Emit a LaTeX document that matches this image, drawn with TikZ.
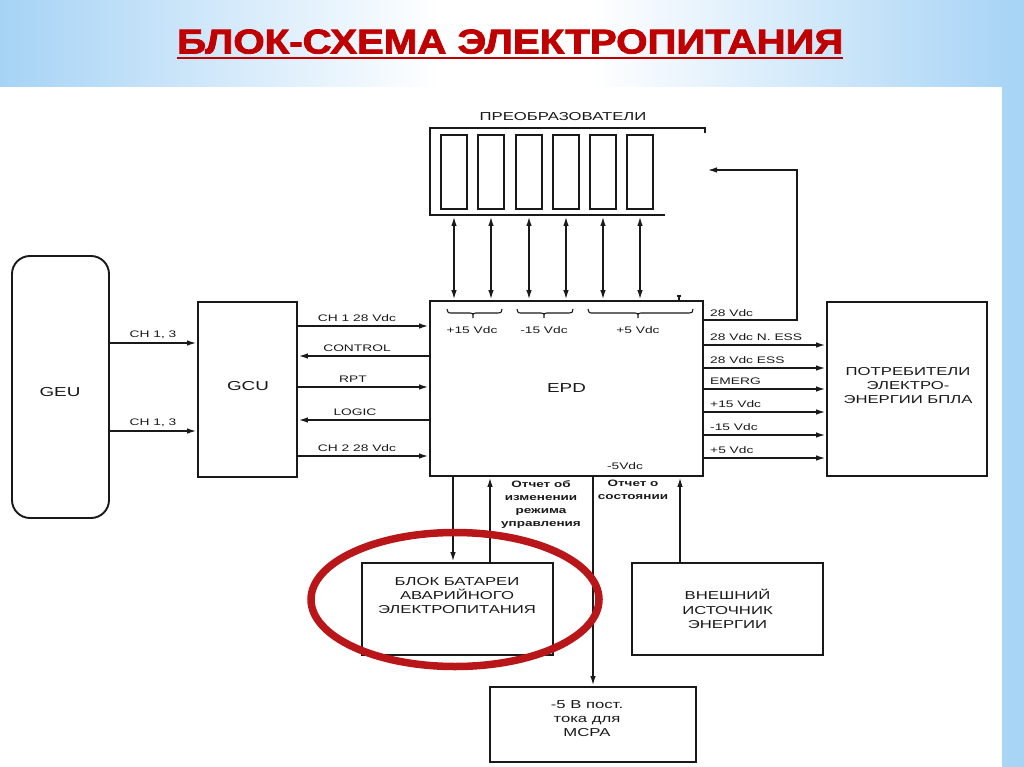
\documentclass[tikz,border=0pt]{standalone}
\usepackage{graphicx}
\usepackage{fontspec}
\setmainfont{Liberation Sans}
\newfontfamily\dfont[FakeStretch=1.45]{Liberation Sans}
\newfontfamily\tfont[FakeBold=2.2]{Liberation Sans}
\usetikzlibrary{arrows.meta}
\definecolor{bgblue}{RGB}{166,211,245}
\definecolor{titlered}{RGB}{192,0,0}
\definecolor{ringred}{RGB}{185,22,25}
\definecolor{ink}{RGB}{25,25,25}
\newcommand\dsz[2]{\dfont\fontsize{#1}{#2}\selectfont}
\begin{document}
\begin{tikzpicture}[x=1pt,y=-1pt,
  blk/.style={draw=ink, line width=1.9pt, inner sep=0pt, align=center, text=ink, font=\dsz{11.5}{14}},
  txt/.style={inner sep=0pt, align=center, text=ink, font=\dsz{11.5}{14}},
  lbl/.style={inner sep=0pt, text=ink, font=\dsz{9.5}{11}},
  blbl/.style={inner sep=0pt, align=center, text=ink, font=\dsz{9.3}{13}\bfseries},
  conn/.style={draw=ink, line width=1.9pt},
  arr/.style={conn, -{Latex[length=10pt,width=5.5pt]}},
  darr/.style={conn, {Latex[length=10pt,width=5.5pt]}-{Latex[length=10pt,width=5.5pt]}},
  brc/.style={draw=ink, line width=1.1pt}
]
\useasboundingbox (0,0) rectangle (1024,767);
% background
\fill[white] (0,0) rectangle (1024,767);
\shade[left color=bgblue, right color=white] (0,0) rectangle (440,87);
\shade[left color=white, right color=bgblue] (590,0) rectangle (1024,767);
\fill[white] (0,87) rectangle (1002,767);
% title
\node[anchor=south west, inner sep=0pt, text=titlered] (title) at (177,54)
  {\resizebox{666pt}{24pt}{\tfont\bfseries БЛОК-СХЕМА ЭЛЕКТРОПИТАНИЯ}};
\draw[titlered, line width=2.6pt] (title.south west) ++(0,4) -- ++(666,0);

% main blocks
\node[blk, rounded corners=18pt, minimum width=97pt, minimum height=262pt] (geu) at (60.5,387) {};
\node[txt, font=\dsz{13}{15}] (geutxt) at (60,392) {GEU};
\node[blk, minimum width=99pt, minimum height=175pt] (gcu) at (247.5,389.5) {};
\node[txt, font=\dsz{13}{15}] (gcutxt) at (248,386) {GCU};
\node[blk, minimum width=273pt, minimum height=175pt, font=\dsz{13}{15}] (epd) at (566.5,388.5) {EPD};
\node[blk, minimum width=160pt, minimum height=174pt] (cons) at (907,389) {};
\node[txt] (constxt) at (908,386) {ПОТРЕБИТЕЛИ\\ЭЛЕКТРО-\\ЭНЕРГИИ БПЛА};
\node[blk, minimum width=191pt, minimum height=92pt] (bat) at (457.5,609) {};
\node[txt] (battxt) at (457,596) {БЛОК БАТАРЕИ\\АВАРИЙНОГО\\ЭЛЕКТРОПИТАНИЯ};
\node[blk, minimum width=191pt, minimum height=92pt, font=\dsz{11.5}{14.5}] (ext) at (727.5,609) {ВНЕШНИЙ\\ИСТОЧНИК\\ЭНЕРГИИ};
\node[blk, minimum width=206pt, minimum height=75pt] (mcpa) at (593,724.5) {};
\node[txt] (mcpatxt) at (587,719) {-5 В пост.\\тока для\\МСРА};

% converters
\draw[conn] (705,133) -- (705,128) -- (430,128) -- (430,215) -- (665,215);
\node[txt] (convtxt) at (563,117) {ПРЕОБРАЗОВАТЕЛИ};
\foreach \i/\x in {1/454,2/491,3/529,4/566,5/603,6/640} {
  \node[blk, minimum width=26pt, minimum height=74pt] (cv\i) at (\x,172) {};
  \draw[darr] (cv\i.south |- 0,216) -- (cv\i.south |- epd.north);
}
% small tick on EPD top
\draw[brc] (679,301) -- (679,296) (677,296) -- (681,296);

% braces inside EPD
\draw[brc] (447,309) .. controls (448,313) .. (452,313) -- (470,313) .. controls (473,313) .. (473,318) .. controls (473,313) .. (476,313) -- (498,313) .. controls (501,313) .. (502,309);
\draw[brc] (517,309) .. controls (518,313) .. (522,313) -- (541,313) .. controls (544,313) .. (544,318) .. controls (544,313) .. (547,313) -- (569,313) .. controls (572,313) .. (573,309);
\draw[brc] (588,309) .. controls (589,313) .. (593,313) -- (635,313) .. controls (638,313) .. (638,318) .. controls (638,313) .. (641,313) -- (689,313) .. controls (692,313) .. (693,309);
\node[lbl] (v15p) at (472,330) {+15 Vdc};
\node[lbl] (v15m) at (544,330) {-15 Vdc};
\node[lbl] (v5p) at (638,330) {+5 Vdc};
\node[lbl] (v5m) at (625,466) {-5Vdc};

% GEU -> GCU
\foreach \y [count=\k] in {343,431} {
  \draw[arr] (geu.east |- 0,\y) -- (gcu.west |- 0,\y);
  \node[lbl, anchor=south] (ch\k) at (153,\y-4) {CH 1, 3};
}
% GCU <-> EPD
\draw[arr] (gcu.east |- 0,326) -- (epd.west |- 0,326);
\node[lbl, anchor=south] (l1) at (357,322) {CH 1 28 Vdc};
\draw[arr] (epd.west |- 0,356) -- (gcu.east |- 0,356);
\node[lbl, anchor=south] (l2) at (357,352) {CONTROL};
\draw[arr] (gcu.east |- 0,387) -- (epd.west |- 0,387);
\node[lbl, anchor=south] (l3) at (353,383) {RPT};
\draw[arr] (epd.west |- 0,420) -- (gcu.east |- 0,420);
\node[lbl, anchor=south] (l4) at (355,416) {LOGIC};
\draw[arr] (gcu.east |- 0,456) -- (epd.west |- 0,456);
\node[lbl, anchor=south] (l5) at (357,452) {CH 2 28 Vdc};

% feedback 28 Vdc to converters
\coordinate (fbc) at (797,170);
\coordinate (fb) at (707,170);
\draw[arr] (epd.east |- 0,320) -| (fbc) -- (fb);
\node[lbl, anchor=south west] (r0) at (710,317) {28 Vdc};

% EPD -> consumers
\foreach \y/\t [count=\k] in {345/28 Vdc N. ESS, 368/28 Vdc ESS, 389/EMERG, 412/+15 Vdc, 435/-15 Vdc, 458/+5 Vdc} {
  \draw[arr] (epd.east |- 0,\y) -- (cons.west |- 0,\y);
  \node[lbl, anchor=south west] (r\k) at (710,\y-4) {\t};
}

% bottom connections
\draw[arr] (epd.south -| 453,0) -- (bat.north -| 453,0);
\draw[arr] (bat.north -| 490,0) -- (epd.south -| 490,0);
\draw[arr] (epd.south -| mcpa.north) -- (mcpa.north);
\draw[arr] (ext.north -| 680,0) -- (epd.south -| 680,0);
\node[blbl, anchor=north] (rep1) at (541,480) {Отчет об\\изменении\\режима\\управления};
\node[blbl, anchor=north] (rep2) at (633,480) {Отчет о\\состоянии};

% highlight ring
\draw[ringred, line width=7.5pt] (455,599.5) ellipse [x radius=144, y radius=67];
\end{tikzpicture}
\end{document}
